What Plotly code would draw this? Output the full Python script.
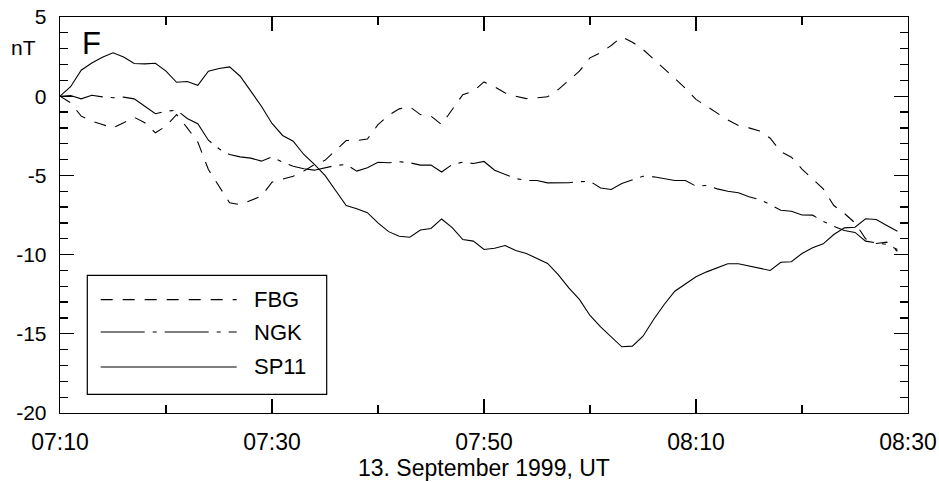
import pandas as pd
import plotly.graph_objects as go

# time axis: one sample per minute from 07:10 UT, 13 Sept 1999
start_time = "1999-09-13 07:10"
end_time = "1999-09-13 08:30"
n_samples = 80

fbg = [0, -0.42, -1.26, -1.58, -1.79, -2.0, -1.68, -1.33, -1.68, -2.31,
       -1.89, -1.16, -2.0, -2.9, -4.63, -5.68, -6.73, -6.84, -6.58, -6.31,
       -5.43, -5.26, -5.05, -4.73, -4.31, -4.05, -3.4, -2.8, -2.8, -2.7,
       -1.8, -1.2, -0.8, -0.67, -1.16, -1.26, -1.79, -0.84, 0.1, 0.32,
       0.9, 0.6, 0.2, 0.0, -0.15, -0.1, -0.04, 0.42, 0.99, 1.58,
       2.42, 2.74, 3.2, 3.75, 3.41, 2.95, 2.35, 1.75, 1.1, 0.5,
       -0.2, -0.65, -1.1, -1.5, -1.85, -2.0, -2.2, -2.65, -3.5, -3.85,
       -4.6, -5.2, -5.85, -6.9, -7.4, -8.0, -9.0, -9.3, -9.21, -9.79]

ngk = [0, 0.04, -0.17, 0.06, -0.04, -0.1, -0.06, -0.17, -0.63, -1.11,
       -0.95, -0.88, -1.41, -1.74, -2.78, -3.32, -3.68, -3.83, -3.91, -4.1,
       -3.83, -4.17, -4.42, -4.58, -4.67, -4.5, -4.37, -4.31, -4.73, -4.52,
       -4.17, -4.2, -4.14, -4.2, -4.35, -4.35, -4.79, -4.31, -4.17, -4.25,
       -4.12, -4.67, -4.94, -5.2, -5.32, -5.32, -5.47, -5.47, -5.46, -5.4,
       -5.37, -5.8, -5.89, -5.51, -5.26, -5.05, -5.09, -5.22, -5.32, -5.32,
       -5.68, -5.64, -5.85, -6.0, -6.1, -6.35, -6.52, -6.84, -7.2, -7.26,
       -7.5, -7.51, -7.9, -8.21, -8.48, -8.6, -9.15, -9.26, -9.36, -9.68]

sp11 = [0, 0.6, 1.64, 2.1, 2.46, 2.74, 2.48, 2.06, 2.04, 2.08,
        1.58, 0.88, 0.93, 0.69, 1.58, 1.75, 1.85, 1.26, 0.32, -0.63,
        -1.72, -2.48, -2.84, -3.68, -4.3, -5.0, -5.95, -6.9, -7.1, -7.35,
        -8.0, -8.55, -8.84, -8.9, -8.45, -8.35, -7.75, -8.3, -9.05, -9.15,
        -9.68, -9.6, -9.43, -9.74, -9.93, -10.25, -10.56, -11.26, -12.1, -12.83,
        -13.84, -14.56, -15.19, -15.82, -15.78, -15.15, -14.1, -13.15, -12.31, -11.85,
        -11.4, -11.09, -10.83, -10.58, -10.58, -10.73, -10.88, -11.0, -10.48, -10.45,
        -9.93, -9.57, -9.32, -8.73, -8.31, -8.27, -7.74, -7.78, -8.16, -8.52]

series_names = ["FBG", "NGK", "SP11"]
series_dash = ["12px,10px", "44px,8px,4px,8px", "solid"]

y_tick_vals = [-20, -15, -10, -5, 0, 5]
y_tick_text = ["-20", "-15", "-10", "-5", "0", "5"]

x_title = "13. September 1999, UT"
y_unit = "nT"
panel_label = "F"

times = pd.date_range(start_time, periods=n_samples, freq="min")
series_values = [fbg, ngk, sp11]

fig = go.Figure()
for name, vals, dash in zip(series_names, series_values, series_dash):
    fig.add_trace(go.Scatter(x=times, y=vals, mode="lines", name=name,
                             showlegend=False,
                             line=dict(color="black", width=1.1, dash=dash)))

font_family = "'Liberation Sans', Arial, sans-serif"

# legend drawn as a boxed key (paper coordinates)
legend_box = dict(x0=0.0322, x1=0.3145, y0=0.0472, y1=0.3477)
legend_rows_y = [0.2864, 0.2045, 0.1162]
legend_line_x = (0.048, 0.2084)
legend_text_x = 0.2268

shapes = [dict(type="rect", xref="paper", yref="paper",
               fillcolor="white", line=dict(color="black", width=1.2),
               layer="above", **legend_box)]
annotations = []
for name, dash, ry in zip(series_names, series_dash, legend_rows_y):
    shapes.append(dict(type="line", xref="paper", yref="paper",
                       x0=legend_line_x[0], x1=legend_line_x[1], y0=ry, y1=ry,
                       layer="above", line=dict(color="black", width=1.1, dash=dash)))
    annotations.append(dict(text=name, xref="paper", yref="paper",
                            x=legend_text_x, y=ry, xanchor="left", yanchor="middle",
                            showarrow=False, font=dict(size=22)))

annotations += [
    dict(text=y_unit, xref="paper", yref="paper", x=-0.0425, y=0.924,
         xanchor="center", yanchor="middle", showarrow=False,
         font=dict(size=21)),
    dict(text=panel_label, xref="paper", yref="paper", x=0.0374, y=0.932,
         xanchor="center", yanchor="middle", showarrow=False,
         font=dict(size=31)),
    dict(text=x_title, xref="paper", yref="paper", x=0.5, y=-0.1396,
         xanchor="center", yanchor="middle", showarrow=False,
         font=dict(size=23)),
]

fig.update_layout(
    width=939, height=482,
    margin=dict(l=60, r=31, t=17, b=69),
    plot_bgcolor="white", paper_bgcolor="white",
    font=dict(family=font_family, color="black"),
    showlegend=False,
    hovermode=False,
    xaxis=dict(
        type="date",
        range=[start_time, end_time],
        tick0=start_time, dtick=1200000, tickformat="%H:%M",
        ticks="inside", ticklen=14, tickwidth=1.3, tickcolor="black",
        showline=True, linecolor="black", linewidth=1.3, mirror="allticks",
        showgrid=False, zeroline=False, automargin=False,
        ticklabeloverflow="allow",
        tickfont=dict(size=23), ticklabelstandoff=8,
        minor=dict(dtick=600000, ticks="inside", ticklen=8, tickwidth=1.3,
                   tickcolor="black", showgrid=False),
    ),
    yaxis=dict(
        range=[-20, 5], tickmode="array", tickvals=y_tick_vals, ticktext=y_tick_text,
        ticks="inside", ticklen=14, tickwidth=1.3, tickcolor="black",
        showline=True, linecolor="black", linewidth=1.3, mirror="allticks",
        showgrid=False, zeroline=False, automargin=False,
        ticklabeloverflow="allow",
        tickfont=dict(size=21), ticklabelstandoff=8,
        minor=dict(tickmode="linear", tick0=0, dtick=1, ticks="inside", ticklen=8,
                   tickwidth=1.3, tickcolor="black", showgrid=False),
    ),
    shapes=shapes,
    annotations=annotations,
)

fig.write_html(
    "out.html",
    config={"displayModeBar": False, "staticPlot": True},
    post_script="document.body.style.margin='0';document.body.style.overflow='hidden';",
)
